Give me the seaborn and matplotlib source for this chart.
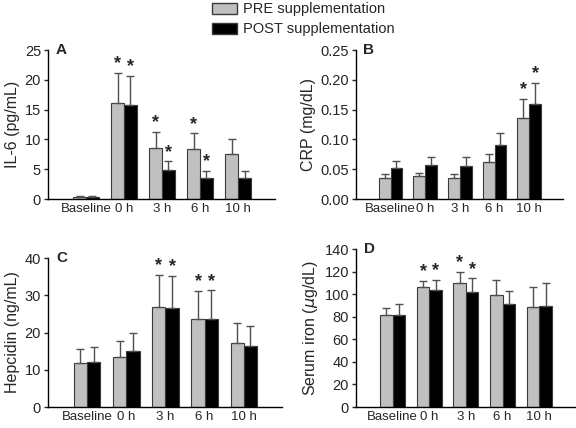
import numpy as np
import pandas as pd
import seaborn as sns
import matplotlib.pyplot as plt
from matplotlib.patches import Patch

sns.set_style("white")
plt.rcParams['font.family'] = ['Liberation Sans', 'DejaVu Sans']

times = ['Baseline', '0 h', '3 h', '6 h', '10 h']
groups = ['PRE supplementation', 'POST supplementation']

# IL-6 (pg/mL)
il6_pre = [0.4, 16.1, 8.6, 8.4, 7.6]
il6_post = [0.4, 15.7, 4.8, 3.6, 3.6]
il6_pre_err = [0.1, 5.1, 2.7, 2.6, 2.4]
il6_post_err = [0.1, 4.9, 1.5, 1.1, 1.1]
il6_pre_sig = [0, 1, 1, 1, 0]
il6_post_sig = [0, 1, 1, 1, 0]

# CRP (mg/dL)
crp_pre = [0.036, 0.038, 0.036, 0.062, 0.136]
crp_post = [0.052, 0.057, 0.056, 0.091, 0.160]
crp_pre_err = [0.006, 0.006, 0.006, 0.014, 0.032]
crp_post_err = [0.012, 0.013, 0.014, 0.019, 0.035]
crp_pre_sig = [0, 0, 0, 0, 1]
crp_post_sig = [0, 0, 0, 0, 1]

# Hepcidin (ng/mL)
hep_pre = [11.8, 13.4, 26.9, 23.6, 17.2]
hep_post = [12.1, 15.0, 26.7, 23.7, 16.5]
hep_pre_err = [3.8, 4.3, 8.5, 7.5, 5.4]
hep_post_err = [3.9, 4.8, 8.4, 7.6, 5.2]
hep_pre_sig = [0, 0, 1, 1, 0]
hep_post_sig = [0, 0, 1, 1, 0]

# Serum iron (ug/dL)
iron_pre = [82, 106, 110, 99, 89]
iron_post = [82, 104, 102, 91, 90]
iron_pre_err = [6, 6, 10, 14, 17]
iron_post_err = [9, 9, 12, 12, 20]
iron_pre_sig = [0, 1, 1, 0, 0]
iron_post_sig = [0, 1, 1, 0, 0]

panels = [
    ('A', 'IL-6 (pg/mL)', il6_pre, il6_post, il6_pre_err, il6_post_err, il6_pre_sig, il6_post_sig,
     (0, 25), np.arange(0, 26, 5), '{:.0f}', [0.0833, 0.535, 0.394, 0.348]),
    ('B', 'CRP (mg/dL)', crp_pre, crp_post, crp_pre_err, crp_post_err, crp_pre_sig, crp_post_sig,
     (0, 0.25), np.arange(0, 0.26, 0.05), '{:.2f}', [0.618, 0.535, 0.359, 0.348]),
    ('C', 'Hepcidin (ng/mL)', hep_pre, hep_post, hep_pre_err, hep_post_err, hep_pre_sig, hep_post_sig,
     (0, 40), np.arange(0, 41, 10), '{:.0f}', [0.0833, 0.049, 0.406, 0.348]),
    ('D', 'Serum iron ($\\mu$g/dL)', iron_pre, iron_post, iron_pre_err, iron_post_err, iron_pre_sig, iron_post_sig,
     (0, 140), np.arange(0, 141, 20), '{:.0f}', [0.618, 0.049, 0.38, 0.369]),
]

gray = '#c0c0c0'
edge = '#3a3a3a'

fig = plt.figure(figsize=(5.76, 4.28), dpi=100)

for letter, ylab, pre, post, pre_e, post_e, pre_s, post_s, ylim, yt, fmt, pos in panels:
    ax = fig.add_axes(pos)
    df = pd.DataFrame({
        'time': times * 2,
        'group': [groups[0]] * 5 + [groups[1]] * 5,
        'value': pre + post,
    })
    sns.barplot(data=df, x='time', y='value', hue='group', order=times, hue_order=groups,
                palette=[gray, 'black'], width=0.68, errorbar=None, edgecolor=edge,
                linewidth=0.8, legend=False, ax=ax)
    errs = pre_e + post_e
    sigs = pre_s + post_s
    vals = pre + post
    span = ylim[1] - ylim[0]
    for p, v, e, s in zip(ax.patches, vals, errs, sigs):
        xc = p.get_x() + p.get_width() / 2
        ax.errorbar(xc, v, yerr=[[0], [e]], fmt='none', ecolor='#505050', elinewidth=1,
                    capsize=3, capthick=1)
        if s:
            ax.text(xc, v + e + span * 0.005, '*', ha='center', va='bottom', fontsize=13,
                    fontweight='bold')
    ax.set_xlim(-1.0, 4.97)
    ax.set_ylim(*ylim)
    ax.set_yticks(yt)
    ax.set_yticklabels([fmt.format(t) for t in yt], fontsize=10.5)
    ax.set_xticks(range(5))
    ax.set_xticklabels(times, fontsize=9.5)
    ax.tick_params(axis='x', length=0, pad=3)
    ax.tick_params(axis='y', length=3, width=1, direction='out', pad=2, left=True)
    ax.set_xlabel('')
    ax.set_ylabel(ylab, fontsize=11.5, labelpad=3)
    sns.despine(ax=ax)
    for sp in ['left', 'bottom']:
        ax.spines[sp].set_color('black')
        ax.spines[sp].set_linewidth(1)
    ax.text(0.035, 1.0, letter, transform=ax.transAxes, fontsize=11, fontweight='bold',
            va='center', ha='left')

handles = [Patch(facecolor=gray, edgecolor=edge, label=groups[0]),
           Patch(facecolor='black', edgecolor=edge, label=groups[1])]
fig.legend(handles=handles, loc='upper left', bbox_to_anchor=(0.345, 1.025), frameon=False,
           fontsize=10.5, handlelength=1.7, handleheight=0.8, labelspacing=0.4, handletextpad=0.45)

fig.savefig('out.png', dpi=100)
